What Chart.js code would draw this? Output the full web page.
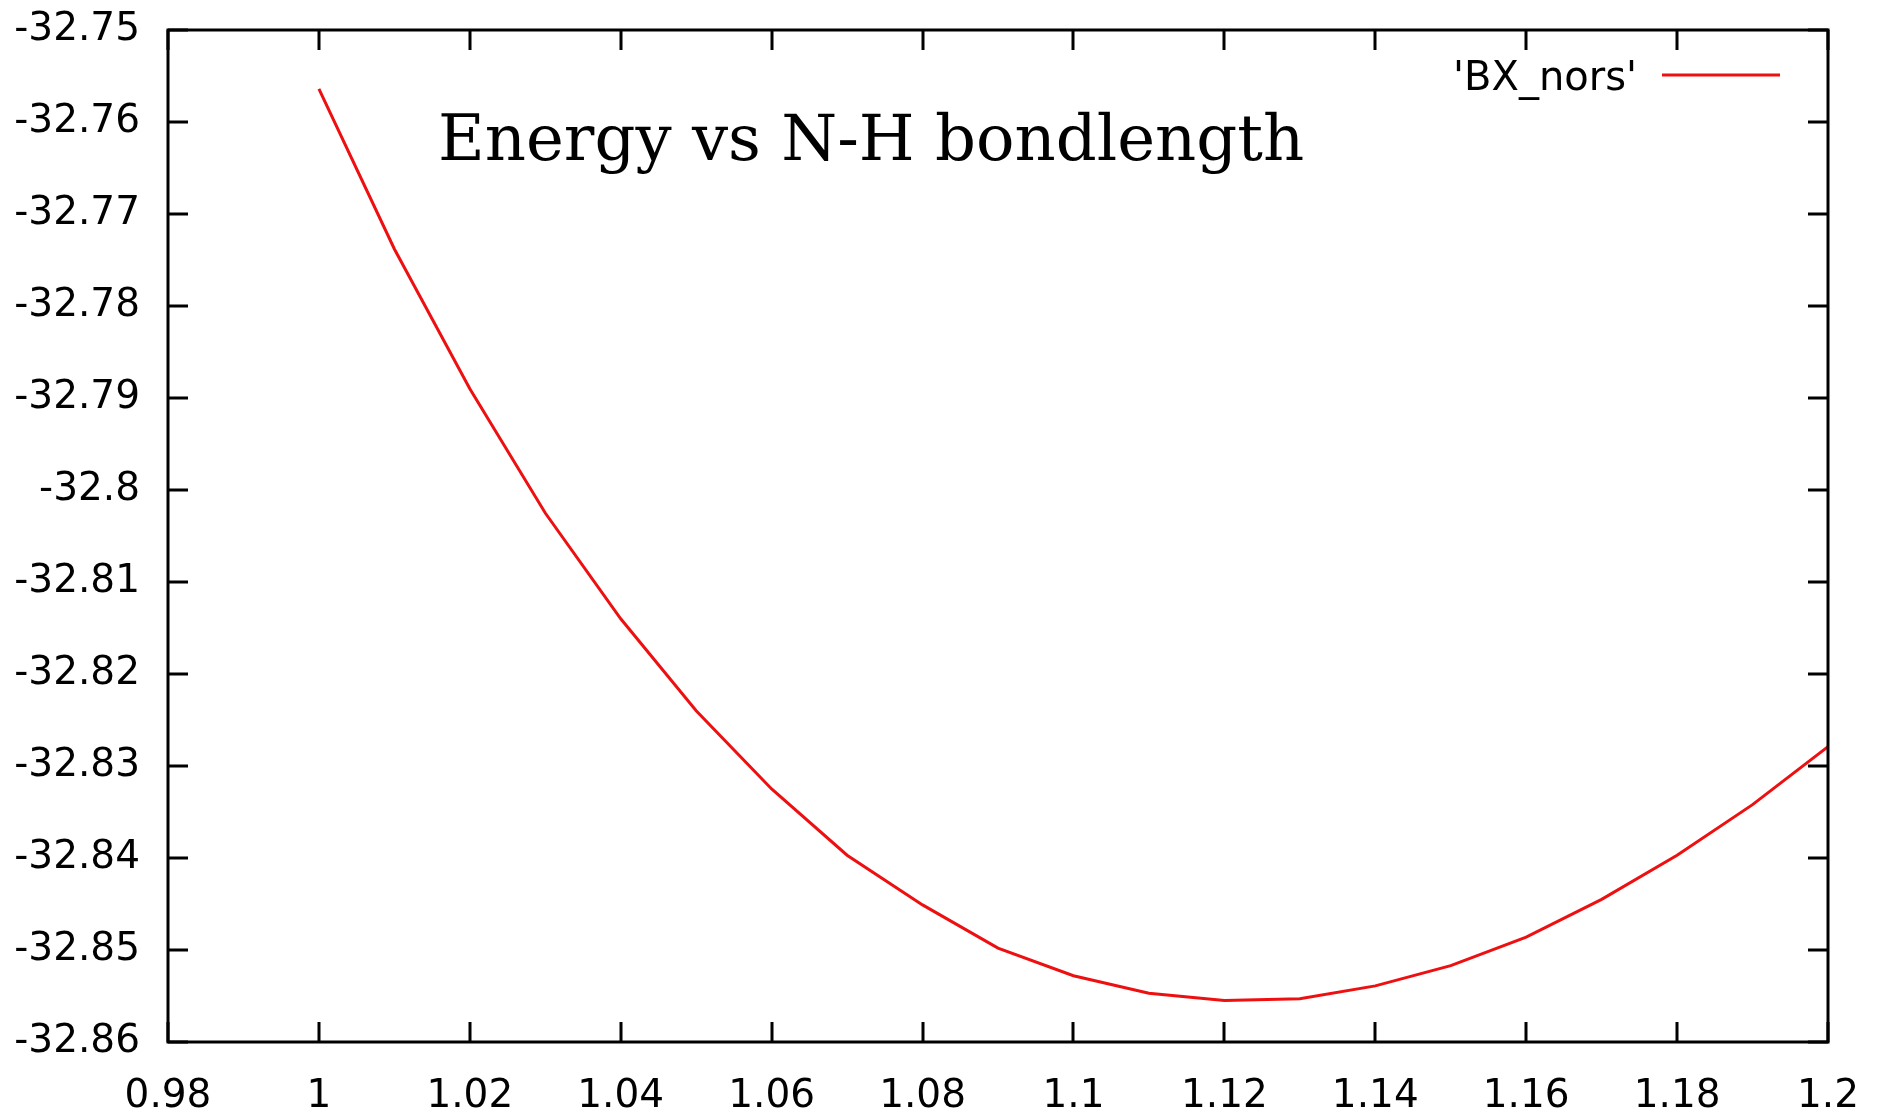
<!DOCTYPE html>
<html>
<head>
<meta charset="utf-8">
<title>Energy vs N-H bondlength</title>
<script src="https://cdn.jsdelivr.net/npm/chart.js@4.4.1/dist/chart.umd.min.js"></script>
<style>
  html, body { margin: 0; padding: 0; background: #fff; }
  #wrap { width: 1886px; height: 1114px; }
</style>
</head>
<body>
<div id="wrap"><canvas id="energyChart" width="1886" height="1114"></canvas></div>
<script>
// N-H bond length scan (x) and total energy (y)
const bondLengths = [1.00, 1.01, 1.02, 1.03, 1.04, 1.05, 1.06, 1.07, 1.08, 1.09, 1.10,
                     1.11, 1.12, 1.13, 1.14, 1.15, 1.16, 1.17, 1.18, 1.19, 1.20];
const energies = [-32.7564, -32.7738, -32.7890, -32.8025, -32.8140, -32.8240, -32.8325,
                  -32.8397, -32.8451, -32.8498, -32.8528, -32.8547, -32.8555, -32.8553,
                  -32.8539, -32.8517, -32.8486, -32.8445, -32.8397, -32.8342, -32.8279];
const seriesName = "'BX_nors'";
const chartTitle = 'Energy vs N-H bondlength';
const xRange = [0.98, 1.2];
const yRange = [-32.86, -32.75];
const xStep = 0.02;
const yStep = 0.01;

const points = bondLengths.map((x, i) => ({ x: x, y: energies[i] }));

// gnuplot-like tick text: drop trailing zeros
function fmt(v) {
  return String(Number(v.toFixed(4)));
}

// frame with inward ticks on all four sides, plus title and key
const gnuplotFrame = {
  id: 'gnuplotFrame',
  afterDraw(chart) {
    const ctx = chart.ctx;
    const a = chart.chartArea;
    const xs = chart.scales.x;
    const ys = chart.scales.y;
    const tl = 20;
    ctx.save();
    ctx.strokeStyle = '#000';
    ctx.lineWidth = 3;
    ctx.beginPath();
    xs.ticks.forEach(t => {
      const px = Math.round(xs.getPixelForValue(t.value));
      ctx.moveTo(px, a.bottom); ctx.lineTo(px, a.bottom - tl);
      ctx.moveTo(px, a.top); ctx.lineTo(px, a.top + tl);
    });
    ys.ticks.forEach(t => {
      const py = Math.round(ys.getPixelForValue(t.value));
      ctx.moveTo(a.left, py); ctx.lineTo(a.left + tl, py);
      ctx.moveTo(a.right, py); ctx.lineTo(a.right - tl, py);
    });
    ctx.stroke();
    ctx.strokeRect(a.left, a.top, a.right - a.left, a.bottom - a.top);

    // title inside the plot
    ctx.fillStyle = '#000';
    ctx.font = '64px "DejaVu Serif"';
    ctx.textAlign = 'left';
    ctx.textBaseline = 'alphabetic';
    ctx.fillText(chartTitle, a.left + 270, a.top + 130);

    // key: label then line sample
    const ds = chart.data.datasets[0];
    ctx.font = '40px "DejaVu Sans"';
    ctx.textAlign = 'right';
    ctx.fillText(ds.label, a.right - 191, a.top + 60);
    ctx.strokeStyle = ds.borderColor;
    ctx.lineWidth = 3;
    ctx.beginPath();
    ctx.moveTo(a.right - 166, a.top + 45);
    ctx.lineTo(a.right - 48, a.top + 45);
    ctx.stroke();
    ctx.restore();
  }
};

const tickFont = { family: 'DejaVu Sans', size: 39 };

new Chart(document.getElementById('energyChart').getContext('2d'), {
  type: 'line',
  data: {
    datasets: [{
      label: seriesName,
      data: points,
      borderColor: '#ee1010',
      borderWidth: 3,
      pointRadius: 0,
      tension: 0,
      fill: false
    }]
  },
  options: {
    responsive: false,
    animation: false,
    devicePixelRatio: 1,
    layout: { padding: { top: 30, right: 58, left: 0, bottom: 0 } },
    plugins: {
      legend: { display: false },
      title: { display: false },
      tooltip: { enabled: false }
    },
    scales: {
      x: {
        type: 'linear',
        min: xRange[0],
        max: xRange[1],
        grid: { display: false, drawTicks: false },
        border: { display: false },
        ticks: {
          stepSize: xStep,
          color: '#000',
          font: tickFont,
          padding: 31,
          maxRotation: 0,
          autoSkip: false,
          callback: v => fmt(v)
        },
        afterFit: s => { s.height = 72; s.paddingLeft = 0; s.paddingRight = 0; }
      },
      y: {
        type: 'linear',
        min: yRange[0],
        max: yRange[1],
        grid: { display: false, drawTicks: false },
        border: { display: false },
        ticks: {
          stepSize: yStep,
          color: '#000',
          font: tickFont,
          padding: 28,
          autoSkip: false,
          callback: v => fmt(v)
        },
        afterFit: s => { s.width = 168; s.paddingTop = 0; s.paddingBottom = 0; }
      }
    }
  },
  plugins: [gnuplotFrame]
});
</script>
</body>
</html>
